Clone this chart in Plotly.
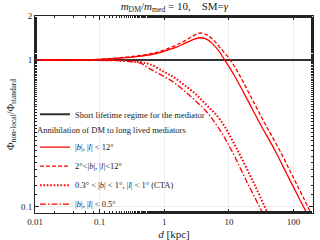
import math
import plotly.graph_objects as go

# ---- data ----
d_solid = [0.01, 0.03, 0.1, 0.2, 0.4, 0.7, 1, 1.5, 2, 2.7, 3.5, 4.5, 5.5, 7, 8.6, 12, 20, 30, 51, 80, 120, 158, 210]
v_solid = [1.0, 1.003, 1.01, 1.03, 1.06, 1.10, 1.15, 1.22, 1.29, 1.37, 1.42, 1.39, 1.30, 1.15, 1.0, 0.79, 0.52, 0.37, 0.243, 0.164, 0.115, 0.091, 0.071]

d_dash = [0.01, 0.03, 0.1, 0.2, 0.4, 0.7, 1, 1.5, 2, 2.7, 3.5, 4.5, 5.5, 7, 10.5, 15, 25, 37, 60.5, 100, 150, 183, 210]
v_dash = [1.0, 1.003, 1.012, 1.035, 1.07, 1.12, 1.17, 1.26, 1.34, 1.45, 1.53, 1.49, 1.40, 1.24, 1.0, 0.77, 0.50, 0.36, 0.243, 0.156, 0.109, 0.091, 0.081]

d_cta = [0.01, 0.1, 0.2, 0.3, 0.42, 0.6, 1, 1.39, 2, 3, 4.57, 7.34, 13.5, 25, 39.3, 45]
v_cta = [1.0, 0.999, 0.995, 0.985, 0.97, 0.935, 0.83, 0.765, 0.68, 0.59, 0.49, 0.39, 0.243, 0.14, 0.091, 0.08]

d_gc = [0.01, 0.1, 0.2, 0.3, 0.42, 0.6, 1, 1.39, 2, 3, 4.57, 7, 10.9, 20, 32.8, 40]
v_gc = [1.0, 0.998, 0.99, 0.975, 0.955, 0.87, 0.77, 0.705, 0.62, 0.53, 0.44, 0.34, 0.243, 0.14, 0.091, 0.075]

d_short = [0.01, 200]
v_short = [1.0, 1.0]

x_tickvals = [0.01, 0.1, 1, 10, 100]
x_ticktext = ["0.01", "0.1", "1", "10", "100"]
y_tickvals = [0.1, 1, 2]
y_ticktext = ["0.1", "1", "2"]

labels = [
    "|<i>b</i>|, |<i>l</i>| &lt; 12°",
    "2°&lt;|<i>b</i>|, |<i>l</i>|&lt;12°",
    "0.3° &lt; |<i>b</i>| &lt; 1°, |<i>l</i>| &lt; 1° (CTA)",
    "|<i>b</i>|, |<i>l</i>| &lt; 0.5°",
]

FONT = "Liberation Serif"
RED = "#ff0000"
TXT = "#222222"

fig = go.Figure()
fig.add_trace(go.Scatter(x=d_short, y=v_short, mode="lines",
                         line=dict(color="#333333", width=2),
                         name="Short lifetime regime for the mediator",
                         legend="legend"))
styles = [("solid", 1.3), ("4px,2px", 1.3), ("1.6px,1.8px", 2.0), ("6px,2px,1.5px,2px", 1.3)]
for (xs, ys), lab, (dash, w) in zip([(d_solid, v_solid), (d_dash, v_dash), (d_cta, v_cta), (d_gc, v_gc)], labels, styles):
    fig.add_trace(go.Scatter(x=xs, y=ys, mode="lines", line=dict(color=RED, width=w, dash=dash, shape="spline"),
                             name=lab, legend="legend2"))

axis_common = dict(type="log", showline=True, linecolor=TXT, linewidth=1, mirror="ticks",
                   ticks="inside", ticklen=4, tickcolor=TXT,
                   showgrid=True, gridcolor="#ededed", gridwidth=1, zeroline=False,
                   tickfont=dict(family=FONT, size=9, color=TXT),
                   minor=dict(ticks="inside", ticklen=2, tickcolor=TXT, showgrid=False),
                   automargin=False)

fig.update_xaxes(**axis_common, range=[-2, 2.3], tickvals=x_tickvals, ticktext=x_ticktext,
                 title=dict(text="<i>d</i> [kpc]", font=dict(family=FONT, size=11, color=TXT), standoff=4))
fig.update_yaxes(**axis_common, range=[-1.045, math.log10(2)], tickvals=y_tickvals, ticktext=y_ticktext,
                 title=dict(text="Φ<sub>non-local</sub>/Φ<sub>standard</sub>", font=dict(family=FONT, size=10.5, color=TXT), standoff=4))

leg_common = dict(xanchor="left", yanchor="top", bgcolor="rgba(0,0,0,0)",
                  font=dict(family=FONT, size=8.5, color=TXT), itemwidth=30)

fig.update_layout(
    width=320, height=240,
    margin=dict(l=35, r=7, t=16, b=27, autoexpand=False),
    paper_bgcolor="white", plot_bgcolor="white",
    title=dict(text="<i>m</i><sub>DM</sub>/<i>m</i><sub>med</sub> = 10,    SM=<i>γ</i>",
               x=0.545, xanchor="center", y=0.99, yanchor="top",
               font=dict(family=FONT, size=11, color=TXT)),
    showlegend=True,
    legend=dict(**leg_common, x=0.0, y=0.575),
    legend2=dict(**leg_common, x=0.0, y=0.464,
                 title=dict(text="Annihilation of DM to long lived mediators", side="top",
                            font=dict(family=FONT, size=8.5, color=TXT))),
)

fig.write_html("out.html", config={"displayModeBar": False},
               post_script="document.body.style.margin='0px';")
